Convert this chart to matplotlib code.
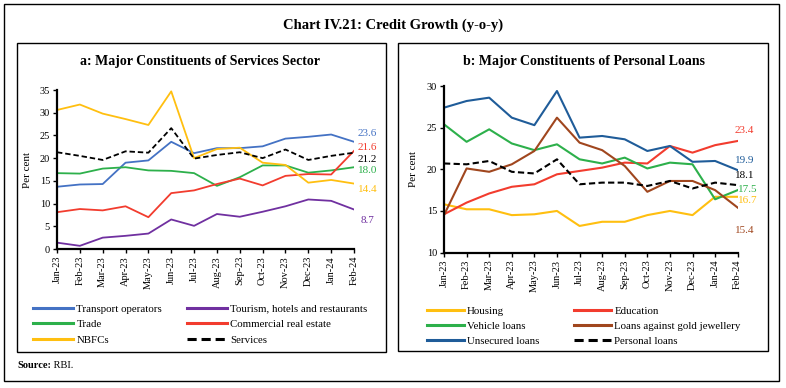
import numpy as np
import matplotlib
matplotlib.use('Agg')
import matplotlib.pyplot as plt
from matplotlib.patches import Rectangle

plt.rcParams['font.family'] = ['Liberation Serif', 'DejaVu Serif']

months = ['Jan-23', 'Feb-23', 'Mar-23', 'Apr-23', 'May-23', 'Jun-23', 'Jul-23',
          'Aug-23', 'Sep-23', 'Oct-23', 'Nov-23', 'Dec-23', 'Jan-24', 'Feb-24']

# Panel a: services sector
transport = [13.7, 14.2, 14.3, 19.0, 19.5, 23.6, 21.1, 22.2, 22.2, 22.6, 24.3, 24.7, 25.2, 23.6]
tourism = [1.4, 0.7, 2.5, 2.9, 3.4, 6.5, 5.1, 7.7, 7.1, 8.2, 9.4, 10.9, 10.6, 8.7]
trade = [16.7, 16.6, 17.7, 18.0, 17.3, 17.2, 16.7, 13.9, 15.8, 18.4, 18.4, 16.8, 17.3, 18.0]
cre = [8.1, 8.8, 8.5, 9.4, 7.0, 12.3, 12.9, 14.3, 15.5, 14.0, 16.1, 16.5, 16.4, 21.6]
nbfcs = [30.6, 31.8, 29.8, 28.6, 27.3, 34.7, 20.0, 22.0, 22.3, 19.0, 18.5, 14.6, 15.2, 14.4]
services = [21.3, 20.5, 19.6, 21.5, 21.2, 26.6, 19.9, 20.7, 21.3, 20.0, 21.9, 19.6, 20.5, 21.2]

# Panel b: personal loans
housing = [15.8, 15.2, 15.2, 14.5, 14.6, 15.0, 13.2, 13.7, 13.7, 14.5, 15.0, 14.5, 16.7, 16.7]
education = [14.6, 16.0, 17.1, 17.9, 18.2, 19.4, 19.8, 20.2, 20.8, 20.7, 22.8, 22.0, 22.9, 23.4]
vehicle = [25.4, 23.3, 24.8, 23.1, 22.3, 23.0, 21.2, 20.7, 21.4, 20.1, 20.8, 20.6, 16.4, 17.5]
gold = [14.5, 20.1, 19.7, 20.6, 22.2, 26.2, 23.2, 22.3, 20.4, 17.3, 18.6, 18.6, 17.5, 15.4]
unsecured = [27.4, 28.2, 28.6, 26.2, 25.3, 29.4, 23.8, 24.0, 23.6, 22.2, 22.8, 20.9, 21.0, 19.9]
personal = [20.7, 20.6, 21.0, 19.7, 19.5, 21.2, 18.2, 18.4, 18.4, 18.0, 18.6, 17.7, 18.4, 18.1]

C_BLUE = '#4472C4'
C_PURPLE = '#7030A0'
C_GREEN = '#2DB04B'
C_RED = '#F23C2E'
C_YELLOW = '#FFBF10'
C_BROWN = '#A0461E'
C_NAVY = '#1F5C99'
DASH = (0, (3, 1.6))

W, H = 786, 388
fig = plt.figure(figsize=(W / 100, H / 100), dpi=100)


def fx(px):
    return px / W


def fy(py):
    return 1 - py / H


def box(x0, y0, x1, y1):
    fig.patches.append(Rectangle((fx(x0), fy(y1)), fx(x1) - fx(x0), fy(y0) - fy(y1),
                                 transform=fig.transFigure, fill=False,
                                 edgecolor='black', linewidth=1.0))


box(4, 4, 779, 381)
box(17, 43, 386, 352)
box(398, 43, 768, 351)

fig.text(fx(393), fy(25), 'Chart IV.21: Credit Growth (y-o-y)', ha='center', va='center',
         fontsize=10.5, fontweight='bold')
fig.text(fx(200), fy(62), 'a: Major Constituents of Services Sector', ha='center',
         va='center', fontsize=10, fontweight='bold')
fig.text(fx(584), fy(62), 'b: Major Constituents of Personal Loans', ha='center',
         va='center', fontsize=10, fontweight='bold')


def style_axis(ax, ylo, yhi):
    x = np.arange(len(months))
    ax.set_xlim(0, len(months) - 1)
    ax.set_ylim(ylo, yhi)
    ax.set_yticks(np.arange(ylo, yhi + 1, 5))
    ax.set_xticks(x)
    ax.set_xticklabels(months, rotation=90, fontsize=7.5)
    ax.tick_params(axis='y', labelsize=7.5, length=3, width=1, pad=2)
    ax.tick_params(axis='x', length=3, width=1, pad=2)
    for s in ['top', 'right']:
        ax.spines[s].set_visible(False)
    for s in ['left', 'bottom']:
        ax.spines[s].set_linewidth(1.6)
    ax.set_ylabel('Per cent', fontsize=8)
    ax.patch.set_alpha(0)


def end_label(ax, yv, text, color, xoff):
    ax.text(len(months) - 1 + xoff, yv, text, color=color, fontsize=8,
            ha='center', va='center', clip_on=False)


# Panel a
ax1 = fig.add_axes([fx(57), fy(249), fx(354) - fx(57), fy(90) - fy(249)])
x = np.arange(len(months))
h_tr, = ax1.plot(x, transport, color=C_BLUE, lw=1.3, label='Transport operators')
h_to, = ax1.plot(x, tourism, color=C_PURPLE, lw=1.3, label='Tourism, hotels and restaurants')
h_td, = ax1.plot(x, trade, color=C_GREEN, lw=1.3, label='Trade')
h_cr, = ax1.plot(x, cre, color=C_RED, lw=1.3, label='Commercial real estate')
h_nb, = ax1.plot(x, nbfcs, color=C_YELLOW, lw=1.3, label='NBFCs')
h_sv, = ax1.plot(x, services, color='black', lw=1.3, linestyle=DASH, label='Services')
style_axis(ax1, 0, 35)
ax1.yaxis.set_label_coords(-0.085, 0.5)

end_label(ax1, 25.5, '%.1f' % transport[-1], C_BLUE, 0.6)
end_label(ax1, 22.3, '%.1f' % cre[-1], C_RED, 0.6)
end_label(ax1, 19.8, '%.1f' % services[-1], 'black', 0.6)
end_label(ax1, 17.2, '%.1f' % trade[-1], C_GREEN, 0.6)
end_label(ax1, 13.2, '%.1f' % nbfcs[-1], C_YELLOW, 0.6)
end_label(ax1, 6.2, '%.1f' % tourism[-1], C_PURPLE, 0.6)

leg1 = fig.legend(handles=[h_tr, h_td, h_nb, h_to, h_cr, h_sv], ncol=2,
                  loc='upper left', bbox_to_anchor=(fx(33), fy(304)),
                  frameon=False, fontsize=7.8, handlelength=3.7, handletextpad=0.3,
                  columnspacing=2.3, labelspacing=0.55, borderpad=0, borderaxespad=0)
for ln in leg1.get_lines():
    ln.set_linewidth(2.2)

# Panel b
ax2 = fig.add_axes([fx(444), fy(252.6), fx(737.7) - fx(444), fy(86) - fy(252.6)])
g_ho, = ax2.plot(x, housing, color=C_YELLOW, lw=1.5, label='Housing')
g_ed, = ax2.plot(x, education, color=C_RED, lw=1.5, label='Education')
g_ve, = ax2.plot(x, vehicle, color=C_GREEN, lw=1.5, label='Vehicle loans')
g_go, = ax2.plot(x, gold, color=C_BROWN, lw=1.5, label='Loans against gold jewellery')
g_un, = ax2.plot(x, unsecured, color=C_NAVY, lw=1.5, label='Unsecured loans')
g_pl, = ax2.plot(x, personal, color='black', lw=1.5, linestyle=DASH, label='Personal loans')
style_axis(ax2, 10, 30)
ax2.yaxis.set_label_coords(-0.09, 0.5)

end_label(ax2, 24.7, '%.1f' % education[-1], C_RED, 0.3)
end_label(ax2, 21.1, '%.1f' % unsecured[-1], C_NAVY, 0.3)
end_label(ax2, 19.2, '%.1f' % personal[-1], 'black', 0.3)
end_label(ax2, 17.6, '%.1f' % vehicle[-1], C_GREEN, 0.45)
end_label(ax2, 16.2, '%.1f' % housing[-1], C_YELLOW, 0.45)
end_label(ax2, 12.6, '%.1f' % gold[-1], C_BROWN, 0.3)

leg2 = fig.legend(handles=[g_ho, g_ve, g_un, g_ed, g_go, g_pl], ncol=2,
                  loc='upper left', bbox_to_anchor=(fx(427), fy(306)),
                  frameon=False, fontsize=7.8, handlelength=3.4, handletextpad=0.3,
                  columnspacing=3.2, labelspacing=0.5, borderpad=0, borderaxespad=0)
for ln in leg2.get_lines():
    ln.set_linewidth(2.2)

# Source line
src = fig.text(fx(17), fy(366), 'Source:', ha='left', va='center', fontsize=7.5,
               fontweight='bold')
ax1.annotate(' RBI.', xy=(1, 0.5), xycoords=src, ha='left', va='center',
             fontsize=7.5, annotation_clip=False)

fig.savefig('out.png', dpi=100)
